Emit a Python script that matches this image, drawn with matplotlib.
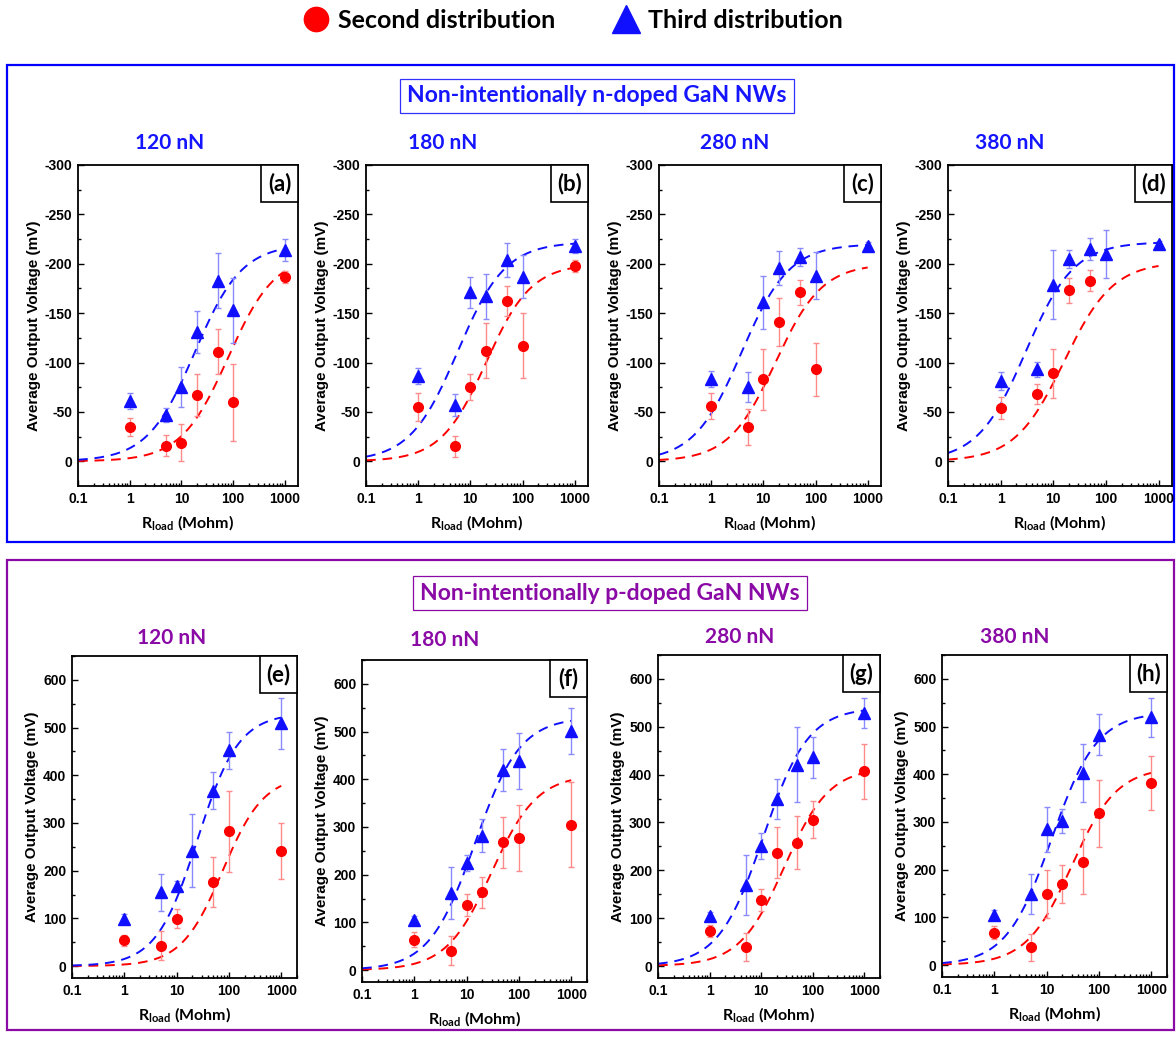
import numpy as np
import matplotlib
matplotlib.use("Agg")
import matplotlib.pyplot as plt
from matplotlib.patches import Rectangle
from matplotlib.ticker import FixedLocator, LogLocator, NullFormatter, FixedFormatter

plt.rcParams['axes.unicode_minus'] = False

# ---------------- data ----------------
panel_labels = ['(a)', '(b)', '(c)', '(d)', '(e)', '(f)', '(g)', '(h)']
forces = ['120 nN', '180 nN', '280 nN', '380 nN']
x_tick_labels = ['0.1', '1', '10', '100', '1000']

# n-doped (top row), values in mV
a_red_x = [1, 5, 10, 20, 50, 100, 1000]
a_red_y = [-35, -16, -19, -67, -111, -60, -187]
a_red_e = [9, 11, 19, 21, 23, 39, 6]
a_blue_x = [1, 5, 10, 20, 50, 100, 1000]
a_blue_y = [-61, -47, -75, -131, -183, -153, -214]
a_blue_e = [8, 7, 20, 21, 28, 33, 11]

b_red_x = [1, 5, 10, 20, 50, 100, 1000]
b_red_y = [-55, -15, -75, -112, -162, -117, -198]
b_red_e = [14, 11, 13, 28, 15, 33, 6]
b_blue_x = [1, 5, 10, 20, 50, 100, 1000]
b_blue_y = [-86, -57, -171, -167, -204, -187, -218]
b_blue_e = [8, 11, 16, 23, 17, 22, 7]

c_red_x = [1, 5, 10, 20, 50, 100]
c_red_y = [-56, -35, -83, -141, -171, -93]
c_red_e = [13, 18, 31, 24, 13, 27]
c_blue_x = [1, 5, 10, 20, 50, 100, 1000]
c_blue_y = [-83, -75, -161, -196, -207, -188, -218]
c_blue_e = [8, 15, 27, 17, 9, 24, 4]

d_red_x = [1, 5, 10, 20, 50]
d_red_y = [-54, -68, -89, -173, -183]
d_red_e = [11, 10, 25, 13, 11]
d_blue_x = [1, 5, 10, 20, 50, 100, 1000]
d_blue_y = [-81, -93, -179, -205, -215, -210, -220]
d_blue_e = [9, 8, 35, 9, 11, 24, 3]

# p-doped (bottom row)
e_red_x = [1, 5, 10, 50, 100, 1000]
e_red_y = [54, 43, 99, 176, 283, 241]
e_red_e = [11, 30, 20, 53, 85, 59]
e_blue_x = [1, 5, 10, 20, 50, 100, 1000]
e_blue_y = [99, 155, 168, 242, 368, 452, 509]
e_blue_e = [10, 39, 10, 76, 38, 39, 54]

f_red_x = [1, 5, 10, 20, 50, 100, 1000]
f_red_y = [64, 41, 136, 163, 268, 277, 305]
f_red_e = [16, 30, 23, 33, 53, 70, 89]
f_blue_x = [1, 5, 10, 20, 50, 100, 1000]
f_blue_y = [105, 162, 225, 282, 419, 438, 501]
f_blue_e = [8, 54, 17, 35, 44, 58, 48]

g_red_x = [1, 5, 10, 20, 50, 100, 1000]
g_red_y = [73, 40, 138, 237, 258, 306, 407]
g_red_e = [12, 29, 23, 53, 56, 38, 58]
g_blue_x = [1, 5, 10, 20, 50, 100, 1000]
g_blue_y = [104, 169, 251, 349, 421, 436, 529]
g_blue_e = [8, 62, 27, 41, 79, 43, 31]

h_red_x = [1, 5, 10, 20, 50, 100, 1000]
h_red_y = [68, 37, 149, 170, 217, 318, 382]
h_red_e = [14, 28, 50, 39, 69, 71, 57]
h_blue_x = [1, 5, 10, 20, 50, 100, 1000]
h_blue_y = [105, 149, 285, 302, 402, 483, 519]
h_blue_e = [10, 41, 47, 26, 61, 43, 40]

# fitted dose-response parameters (Vmax, x0, p) per panel
fit_red = [(-210, 80, 0.95), (-200, 20, 1.0), (-200, 17, 0.97), (-202, 16, 0.93),
           (400, 76, 1.1), (410, 30, 1.0), (415, 28, 1.0), (415, 30, 1.0)]
fit_blue = [(-220, 18, 0.95), (-222, 5.7, 0.95), (-220, 3.8, 0.95), (-222, 3.0, 0.95),
            (530, 25, 1.1), (530, 14.3, 1.0), (540, 11, 1.0), (530, 12.5, 1.0)]

panels = [
    (a_red_x, a_red_y, a_red_e, a_blue_x, a_blue_y, a_blue_e),
    (b_red_x, b_red_y, b_red_e, b_blue_x, b_blue_y, b_blue_e),
    (c_red_x, c_red_y, c_red_e, c_blue_x, c_blue_y, c_blue_e),
    (d_red_x, d_red_y, d_red_e, d_blue_x, d_blue_y, d_blue_e),
    (e_red_x, e_red_y, e_red_e, e_blue_x, e_blue_y, e_blue_e),
    (f_red_x, f_red_y, f_red_e, f_blue_x, f_blue_y, f_blue_e),
    (g_red_x, g_red_y, g_red_e, g_blue_x, g_blue_y, g_blue_e),
    (h_red_x, h_red_y, h_red_e, h_blue_x, h_blue_y, h_blue_e),
]

# ---------------- layout (pixels) ----------------
W, H = 1176, 1039
fig = plt.figure(figsize=(W / 100, H / 100), dpi=100)

def frac(x0, y0, x1, y1):
    return [x0 / W, 1 - y1 / H, (x1 - x0) / W, (y1 - y0) / H]

axes_px = [(78, 165, 298, 486), (366, 165, 588, 486), (659, 165, 881, 486), (948, 165, 1172, 486),
           (72, 656, 297, 978), (362, 660, 587, 982), (658, 655, 880, 978), (942, 655, 1167, 977)]

RED = '#ff0000'
BLUE = '#1010ff'
RED_L = '#ff8a8a'
BLUE_L = '#8a8aff'
TOPC = '#1515ff'
PURP = '#8a0aa5'

LBL_FONT = 'Lato'
TICK_FONT = 'Liberation Sans'

# background axes for frames
bg = fig.add_axes([0, 0, 1, 1], zorder=-5)
bg.set_xlim(0, W)
bg.set_ylim(H, 0)
bg.axis('off')
bg.add_patch(Rectangle((7, 65), 1167, 477, fill=False, ec='#0000ff', lw=1.6))
bg.add_patch(Rectangle((7, 560), 1167, 470, fill=False, ec=PURP, lw=1.6))

fig.text(597 / W, 1 - 96 / H, 'Non-intentionally n-doped GaN NWs', ha='center', va='center',
         color=TOPC, fontsize=16.5, fontweight='bold', family=LBL_FONT,
         bbox=dict(boxstyle='square,pad=0.3', fc='white', ec='#3030ff', lw=0.9))
fig.text(610 / W, 1 - 593 / H, 'Non-intentionally p-doped GaN NWs', ha='center', va='center',
         color=PURP, fontsize=16.5, fontweight='bold', family=LBL_FONT,
         bbox=dict(boxstyle='square,pad=0.3', fc='white', ec=PURP, lw=0.9))

title_pos = [(170, 143), (443, 143), (735, 143), (1010, 143),
             (172, 638), (445, 640), (740, 637), (1015, 637)]

handles = None
for i, (ax_px, data) in enumerate(zip(axes_px, panels)):
    rx, ry, re_, bx, by, be = data
    ax = fig.add_axes(frac(*ax_px))
    top = i < 4
    xs = np.logspace(-1, 3, 300)
    for (vmax, x0, p), col in ((fit_red[i], RED), (fit_blue[i], BLUE)):
        ys = vmax * xs ** p / (x0 ** p + xs ** p)
        ax.plot(xs, ys, linestyle=(0, (5, 3.5)), color=col, lw=1.4, zorder=2)
    ax.errorbar(rx, ry, yerr=re_, fmt='none', ecolor=RED_L, elinewidth=1.0, capsize=2.5,
                capthick=1.0, zorder=3)
    ax.errorbar(bx, by, yerr=be, fmt='none', ecolor=BLUE_L, elinewidth=1.0, capsize=2.5,
                capthick=1.0, zorder=3)
    l1, = ax.plot(rx, ry, 'o', color=RED, ms=7, mec=RED, linestyle='none', zorder=4,
                  label='Second distribution')
    l2, = ax.plot(bx, by, '^', color=BLUE, ms=8, mec=BLUE, linestyle='none', zorder=4,
                  label='Third distribution')
    if handles is None:
        handles = [l1, l2]

    ax.set_xscale('log')
    ax.set_xlim(0.1, 1800 if top else 2000)
    ax.xaxis.set_major_locator(FixedLocator([0.1, 1, 10, 100, 1000]))
    ax.xaxis.set_major_formatter(FixedFormatter(x_tick_labels))
    ax.xaxis.set_minor_locator(LogLocator(base=10, subs=np.arange(2, 10)))
    ax.xaxis.set_minor_formatter(NullFormatter())
    if top:
        ax.set_ylim(25, -300)
        ax.set_yticks(np.arange(-300, 1, 50))
        ax.set_yticks(np.arange(-300, 1, 25), minor=True)
    else:
        ax.set_ylim(-25, 650)
        ax.set_yticks(np.arange(0, 601, 100))
        ax.set_yticks(np.arange(0, 651, 50), minor=True)
    ax.tick_params(which='both', direction='in', top=False, right=False, width=1.0)
    ax.tick_params(which='major', length=4, labelsize=10, pad=4)
    ax.tick_params(which='minor', length=2.5)
    for lab in ax.get_xticklabels() + ax.get_yticklabels():
        lab.set_fontweight('bold')
        lab.set_family(TICK_FONT)
    for s in ax.spines.values():
        s.set_linewidth(1.3)
    ax.set_ylabel('Average Output Voltage (mV)', fontsize=11, fontweight='bold',
                  family=TICK_FONT, labelpad=3)
    ax.set_xlabel(r'R$_{\mathregular{load}}$ (Mohm)', fontsize=11.5, fontweight='bold',
                  family=LBL_FONT, labelpad=6)

    # panel label box at top-right corner
    aw = ax_px[2] - ax_px[0]
    ah = ax_px[3] - ax_px[1]
    bw, bh = 37 / aw, 37 / ah
    ax.add_patch(Rectangle((1 - bw, 1 - bh), bw, bh, transform=ax.transAxes, fc='white',
                           ec='black', lw=1.2, zorder=6, clip_on=False))
    ax.text(1 - bw / 2, 1 - bh / 2, panel_labels[i], transform=ax.transAxes, ha='center',
            va='center', fontsize=16, fontweight='bold', family=LBL_FONT, zorder=7)

    tx, ty = title_pos[i]
    fig.text(tx / W, 1 - ty / H, forces[i % 4], ha='center', va='center', fontsize=15,
             fontweight='bold', family=LBL_FONT, color=TOPC if top else PURP)

fig.legend(handles, ['Second distribution', 'Third distribution'], loc='center',
           bbox_to_anchor=(572 / W, 1 - 20 / H), ncol=2, frameon=False, markerscale=2.5,
           prop={'family': LBL_FONT, 'weight': 'bold', 'size': 18}, columnspacing=2.2,
           handletextpad=0.3, handlelength=1.2)

fig.savefig('out.png', dpi=100)
